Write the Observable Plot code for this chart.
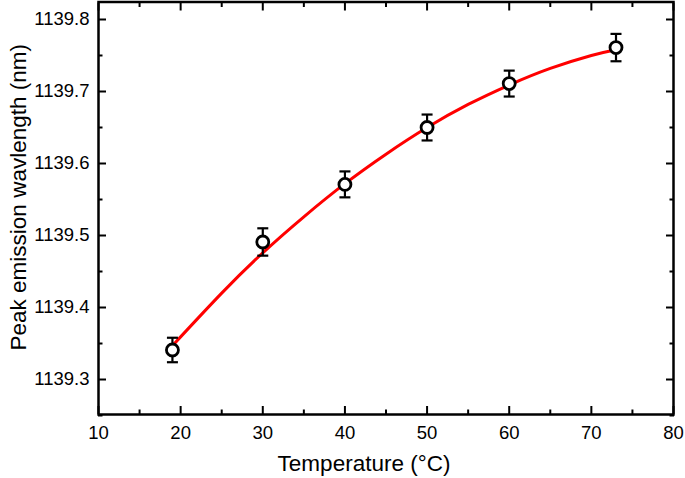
<!DOCTYPE html>
<html>
<head>
<meta charset="utf-8">
<script src="https://cdn.jsdelivr.net/npm/d3@7"></script>
<script src="https://cdn.jsdelivr.net/npm/@observablehq/plot@0.6"></script>
<style>
  html, body { margin: 0; padding: 0; background: #fff; }
  #chart { width: 685px; height: 478px; }
</style>
</head>
<body>
<div id="chart"></div>
<script>
// Measured points
const temps = [19, 30, 40, 50, 60, 73];
const peaks = [1139.341, 1139.491, 1139.571, 1139.650, 1139.711, 1139.761];
const errs = [0.017, 0.019, 0.018, 0.018, 0.018, 0.019];

// Fitted curve
const fitT = [19, 25, 30, 35, 40, 45, 50, 55, 60, 65, 70, 73];
const fitW = [1139.347, 1139.420, 1139.476, 1139.526, 1139.572, 1139.613, 1139.650, 1139.682, 1139.709, 1139.732, 1139.750, 1139.758];

// Ticks
const xMajor = [10, 20, 30, 40, 50, 60, 70, 80];
const xMinor = [15, 25, 35, 45, 55, 65, 75];
const yMajor = [1139.3, 1139.4, 1139.5, 1139.6, 1139.7, 1139.8];
const yMinor = [1139.25, 1139.35, 1139.45, 1139.55, 1139.65, 1139.75];

const xTitle = "Temperature (°C)";
const yTitle = "Peak emission wavlength (nm)";

const points = temps.map((t, i) => ({t, w: peaks[i], e: errs[i]}));
const fit = fitT.map((t, i) => ({t, w: fitW[i]}));

const capSymbol = {
  draw(ctx, size) {
    const r = Math.sqrt(size / Math.PI);
    ctx.moveTo(-r, 0);
    ctx.lineTo(r, 0);
  }
};

const font = "'Liberation Sans', Arial, sans-serif";

const chart = Plot.plot({
  width: 685,
  height: 478,
  marginLeft: 98,
  marginRight: 12,
  marginTop: 1.5,
  marginBottom: 64,
  style: {fontFamily: font, background: "#fff", color: "#000"},
  x: {domain: [10, 80]},
  y: {domain: [1139.2514, 1139.8243]},
  marks: [
    // tick labels
    Plot.axisX({ticks: xMajor, tickSize: 0, tickPadding: 11, fontSize: 18.5, tickFormat: d3.format("d"), label: null}),
    Plot.axisY({ticks: yMajor, tickSize: 0, tickPadding: 9, fontSize: 18.5, tickFormat: d3.format(".1f"), label: null}),
    // inward ticks
    Plot.axisX({ticks: xMajor, tickSize: -8, text: null, strokeWidth: 2, label: null}),
    Plot.axisX({ticks: xMinor, tickSize: -4.5, text: null, strokeWidth: 2, label: null}),
    Plot.axisX({anchor: "top", ticks: xMajor, tickSize: -8, text: null, strokeWidth: 2, label: null}),
    Plot.axisX({anchor: "top", ticks: xMinor, tickSize: -4.5, text: null, strokeWidth: 2, label: null}),
    Plot.axisY({ticks: yMajor, tickSize: -8, text: null, strokeWidth: 2, label: null}),
    Plot.axisY({ticks: yMinor, tickSize: -4.5, text: null, strokeWidth: 2, label: null}),
    Plot.axisY({anchor: "right", ticks: yMajor, tickSize: -8, text: null, strokeWidth: 2, label: null}),
    Plot.axisY({anchor: "right", ticks: yMinor, tickSize: -4.5, text: null, strokeWidth: 2, label: null}),
    Plot.frame({stroke: "#000", strokeWidth: 2.5}),
    // fit curve
    Plot.line(fit, {x: "t", y: "w", stroke: "#ff0000", strokeWidth: 3, curve: "natural"}),
    // error bars
    Plot.ruleX(points, {x: "t", y1: d => d.w - d.e, y2: d => d.w + d.e, stroke: "#000", strokeWidth: 2.2}),
    Plot.dot(points, {x: "t", y: d => d.w - d.e, symbol: capSymbol, r: 5.5, stroke: "#000", strokeWidth: 2.2, fill: "none"}),
    Plot.dot(points, {x: "t", y: d => d.w + d.e, symbol: capSymbol, r: 5.5, stroke: "#000", strokeWidth: 2.2, fill: "none"}),
    // markers
    Plot.dot(points, {x: "t", y: "w", r: 6, stroke: "#000", strokeWidth: 2.8, fill: "#fff"}),
    // axis titles
    Plot.text([xTitle], {frameAnchor: "bottom", textAnchor: "middle", dx: -22, dy: 56, fontSize: 22.5, fill: "#000"}),
    Plot.text([yTitle], {frameAnchor: "left", textAnchor: "middle", lineAnchor: "middle", rotate: -90, dx: -80, dy: -11, fontSize: 22.5, fill: "#000"})
  ]
});

document.getElementById("chart").appendChild(chart);
</script>
</body>
</html>
